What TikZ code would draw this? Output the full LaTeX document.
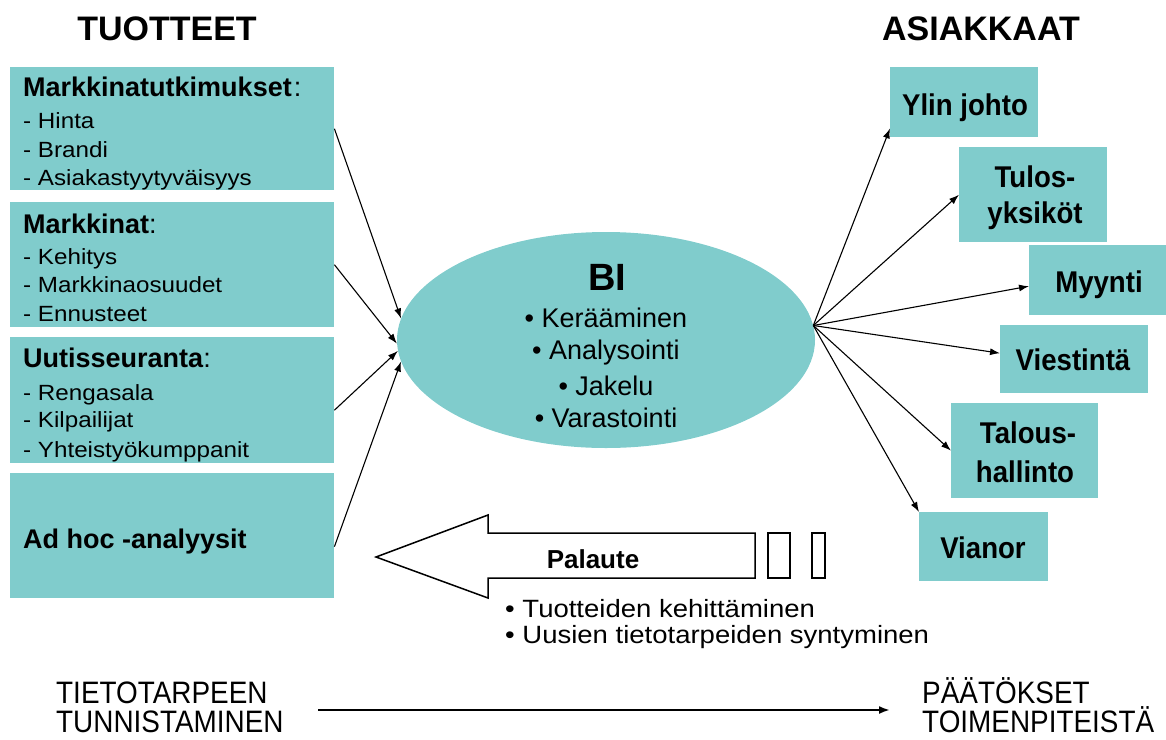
\documentclass[tikz,border=0pt]{standalone}
\usepackage{fontspec}
\setmainfont{Liberation Sans}
\newfontfamily\widesans[FakeStretch=1.1]{Liberation Sans}
\newfontfamily\narrowsans[FakeStretch=0.9]{Liberation Sans}
\newfontfamily\tallsans[FakeStretch=0.92]{Liberation Sans}
\usetikzlibrary{shapes.geometric,arrows.meta}
\definecolor{boxteal}{RGB}{128,204,204}

\begin{document}
\begin{tikzpicture}[x=1pt,y=-1pt,
  tealbox/.style={fill=boxteal,draw=none,inner sep=0pt,anchor=north west},
  txt/.style={inner sep=0pt,text=black},
  colhead/.style={txt,anchor=base,font=\fontsize{34}{40}\selectfont\bfseries},
  boxhead/.style={txt,anchor=base west,font=\fontsize{27}{32}\selectfont\bfseries},
  boxitem/.style={txt,anchor=base west,font=\widesans\fontsize{22}{26}\selectfont},
  bihead/.style={txt,anchor=base,font=\fontsize{38}{44}\selectfont\bfseries},
  biitem/.style={txt,anchor=base,font=\fontsize{27}{32}\selectfont},
  custtxt/.style={txt,anchor=base,font=\tallsans\fontsize{30}{36}\selectfont\bfseries},
  fbtitle/.style={txt,anchor=base,font=\fontsize{26}{30}\selectfont\bfseries},
  fbitem/.style={txt,anchor=base west,font=\widesans\fontsize{25}{30}\selectfont},
  flowtxt/.style={txt,anchor=base west,font=\narrowsans\fontsize{31}{36}\selectfont},
  feed/.style={line width=1.1pt,-{Latex[length=10pt,width=7pt]}},
  hollow/.style={draw=black,line width=1.5pt,fill=white}
]
\useasboundingbox (0,0) rectangle (1166,739);

% column headings
\node[colhead] (tuotteet) at (167,40) {TUOTTEET};
\node[colhead] (asiakkaat) at (981,40) {ASIAKKAAT};

% product boxes
\node[tealbox,minimum width=324,minimum height=123] (tutk) at (10,67) {};
\node[tealbox,minimum width=324,minimum height=125] (mark) at (10,202) {};
\node[tealbox,minimum width=324,minimum height=126] (uut) at (10,337) {};
\node[tealbox,minimum width=324,minimum height=125] (adhoc) at (10,473) {};

\node[boxhead] (tutkH) at (23,96) {Markkinatutkimukset\kern2pt{\mdseries:}};
\node[boxitem] (tutk1) at (23,128) {- Hinta};
\node[boxitem] (tutk2) at (23,157) {- Brandi};
\node[boxitem] (tutk3) at (23,185) {- Asiakastyytyväisyys};
\node[boxhead] (markH) at (23,233) {Markkinat{\mdseries:}};
\node[boxitem] (mark1) at (23,264) {- Kehitys};
\node[boxitem] (mark2) at (23,292) {- Markkinaosuudet};
\node[boxitem] (mark3) at (23,321) {- Ennusteet};
\node[boxhead] (uutH) at (23,367) {Uutisseuranta{\mdseries:}};
\node[boxitem] (uut1) at (23,400) {- Rengasala};
\node[boxitem] (uut2) at (23,427) {- Kilpailijat};
\node[boxitem] (uut3) at (23,457) {- Yhteistyökumppanit};
\node[boxhead] (adhocH) at (23,548) {Ad hoc -analyysit};

% BI ellipse
\node[ellipse,fill=boxteal,minimum width=418,minimum height=216,inner sep=0pt] (bi) at (606,340) {};
\node[bihead] (biT) at (607,290) {BI};
\node[biitem] (bi1) at (606,327) {\textbullet\ Kerääminen};
\node[biitem] (bi2) at (606,359) {\textbullet\ Analysointi};
\node[biitem] (bi3) at (606,395) {\textbullet\ Jakelu};
\node[biitem] (bi4) at (606,427) {\textbullet\ Varastointi};

% customer boxes
\node[tealbox,minimum width=148,minimum height=70] (ylin) at (890,67) {};
\node[tealbox,minimum width=148,minimum height=95] (tulos) at (959,147) {};
\node[tealbox,minimum width=137,minimum height=70] (myynti) at (1029,245) {};
\node[tealbox,minimum width=148,minimum height=68] (viest) at (1000,325) {};
\node[tealbox,minimum width=147,minimum height=95] (talous) at (951,403) {};
\node[tealbox,minimum width=129,minimum height=69] (vianor) at (919,512) {};

\node[custtxt] (ylinT) at (965,115) {Ylin johto};
\node[custtxt] (tulosA) at (1035,187) {Tulos-};
\node[custtxt] (tulosB) at (1035,223) {yksiköt};
\node[custtxt] (myyntiT) at (1099,292) {Myynti};
\node[custtxt] (viestT) at (1073,370) {Viestintä};
\node[custtxt] (talousA) at (1028,443) {Talous-};
\node[custtxt] (talousB) at (1025,482) {hallinto};
\node[custtxt] (vianorT) at (983,558) {Vianor};

% inputs into BI
\draw[feed] (tutk.east) -- (bi.174);
\draw[feed] (mark.east) -- (bi.181);
\draw[feed] ([yshift=-10pt]uut.east) -- (bi.183);
\draw[feed] ([yshift=-11pt]adhoc.east) -- (bi.186);

% outputs to customers
\draw[feed] (bi.4) -- ([yshift=9pt]ylin.south west);
\draw[feed] (bi.4) -- (tulos.west);
\draw[feed] (bi.4) -- ([yshift=-6pt]myynti.west);
\draw[feed] (bi.4) -- ([yshift=6pt]viest.west);
\draw[feed] (bi.4) -- (talous.west);
\draw[feed] (bi.4) -- (vianor.north west);

% feedback block arrow
\draw[hollow] (755,533) -- (488,533) -- (488,515) -- (376,557) -- (488,598) -- (488,578) -- (755,578) -- cycle;
\draw[hollow] (768,533) rectangle (790,578);
\draw[hollow] (812,533) rectangle (825,578);
\node[fbtitle] (palaute) at (593,568) {Palaute};
\node[fbitem] (fb1) at (505,617) {\textbullet\ Tuotteiden kehittäminen};
\node[fbitem] (fb2) at (505,643) {\textbullet\ Uusien tietotarpeiden syntyminen};

% process flow along the bottom
\node[flowtxt] (needA) at (56,703) {TIETOTARPEEN};
\node[flowtxt] (needB) at (56,732) {TUNNISTAMINEN};
\node[flowtxt] (decA) at (922,703) {PÄÄTÖKSET};
\node[flowtxt] (decB) at (922,732) {TOIMENPITEISTÄ};
\coordinate (flowS) at (318,710);
\coordinate (flowE) at (890,710);
\draw[line width=2pt,-{Latex[length=11pt,width=8pt]}] (flowS) -- (flowE);
\end{tikzpicture}
\end{document}
